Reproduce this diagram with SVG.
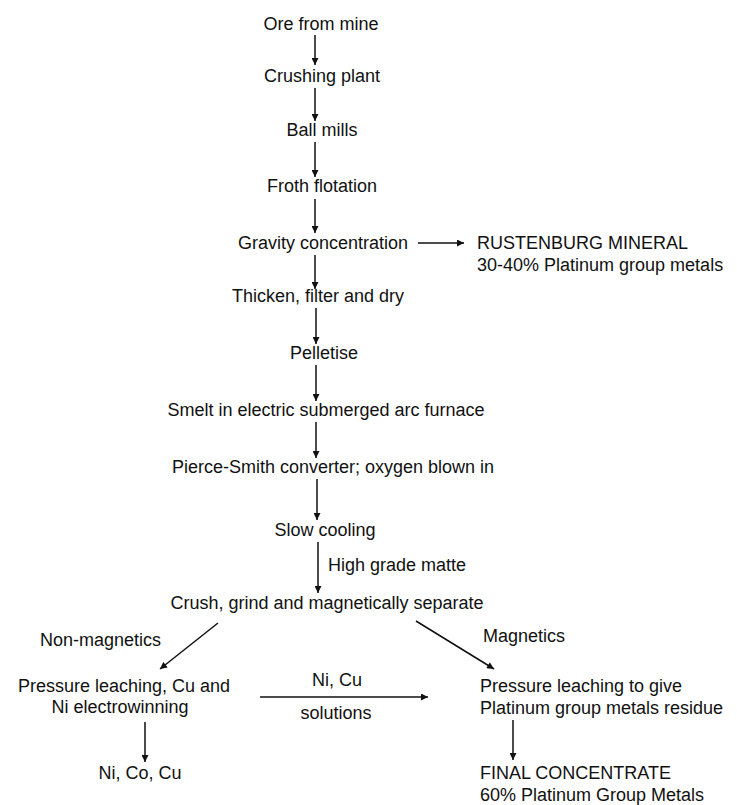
<svg xmlns="http://www.w3.org/2000/svg" width="737" height="805" viewBox="0 0 737 805">
<style>
text{font-family:"Liberation Sans",Arial,sans-serif;font-size:18px;fill:#111}
.c{text-anchor:middle}
.ln{stroke:#111;stroke-width:1.5;fill:none;marker-end:url(#ah)}
</style>
<defs>
<marker id="ah" viewBox="0 0 10 10" refX="10" refY="5" markerWidth="8" markerHeight="7" markerUnits="userSpaceOnUse" orient="auto">
<path d="M0,0 L10,5 L0,10 z" fill="#111"/>
</marker>
</defs>
<rect width="737" height="805" fill="#fff"/>
<g id="n1"><text class="c" x="321" y="30">Ore from mine</text></g>
<g id="n2"><text class="c" x="322" y="82">Crushing plant</text></g>
<g id="n3"><text class="c" x="322" y="136">Ball mills</text></g>
<g id="n4"><text class="c" x="322" y="192">Froth flotation</text></g>
<g id="n5"><text class="c" x="323" y="249">Gravity concentration</text></g>
<g id="n6"><text x="477" y="249">RUSTENBURG MINERAL</text><text x="477" y="271">30-40% Platinum group metals</text></g>
<g id="n7"><text class="c" x="318" y="302">Thicken, filter and dry</text></g>
<g id="n8"><text class="c" x="324" y="359">Pelletise</text></g>
<g id="n9"><text class="c" x="326" y="416">Smelt in electric submerged arc furnace</text></g>
<g id="n10"><text class="c" x="333" y="473">Pierce-Smith converter; oxygen blown in</text></g>
<g id="n11"><text class="c" x="325" y="536">Slow cooling</text></g>
<g id="n12"><text class="c" x="327" y="609">Crush, grind and magnetically separate</text></g>
<g id="n13"><text class="c" x="124" y="692">Pressure leaching, Cu and</text><text class="c" x="120" y="713">Ni electrowinning</text></g>
<g id="n14"><text x="480" y="692">Pressure leaching to give</text><text x="480" y="714">Platinum group metals residue</text></g>
<g id="n15"><text class="c" x="140" y="779">Ni, Co, Cu</text></g>
<g id="n16"><text x="480" y="779">FINAL CONCENTRATE</text><text x="480" y="801">60% Platinum Group Metals</text></g>
<g id="connectors">
<line class="ln" x1="315" y1="35" x2="315" y2="65"/>
<line class="ln" x1="315" y1="88" x2="315" y2="121"/>
<line class="ln" x1="315" y1="142" x2="315" y2="177"/>
<line class="ln" x1="315" y1="199" x2="315" y2="233"/>
<line class="ln" x1="315" y1="255" x2="315" y2="289"/>
<line class="ln" x1="316" y1="308" x2="316" y2="344"/>
<line class="ln" x1="316" y1="365" x2="316" y2="401"/>
<line class="ln" x1="316" y1="422" x2="316" y2="458"/>
<line class="ln" x1="317" y1="479" x2="317" y2="520"/>
<line class="ln" x1="318" y1="542" x2="318" y2="593"/>
<line class="ln" x1="418" y1="243" x2="464" y2="243"/>
<line class="ln" x1="218" y1="623" x2="160" y2="669"/>
<line class="ln" x1="416" y1="621" x2="494" y2="669"/>
<line class="ln" x1="260" y1="697" x2="428" y2="697"/>
<line class="ln" x1="145" y1="722" x2="145" y2="762"/>
<line class="ln" x1="513" y1="720" x2="513" y2="760"/>
</g>
<g id="labels">
<text x="328" y="571">High grade matte</text>
<text x="40" y="646">Non-magnetics</text>
<text x="483" y="642">Magnetics</text>
<text class="c" x="337" y="686">Ni, Cu</text>
<text class="c" x="336" y="719">solutions</text>
</g>
</svg>
